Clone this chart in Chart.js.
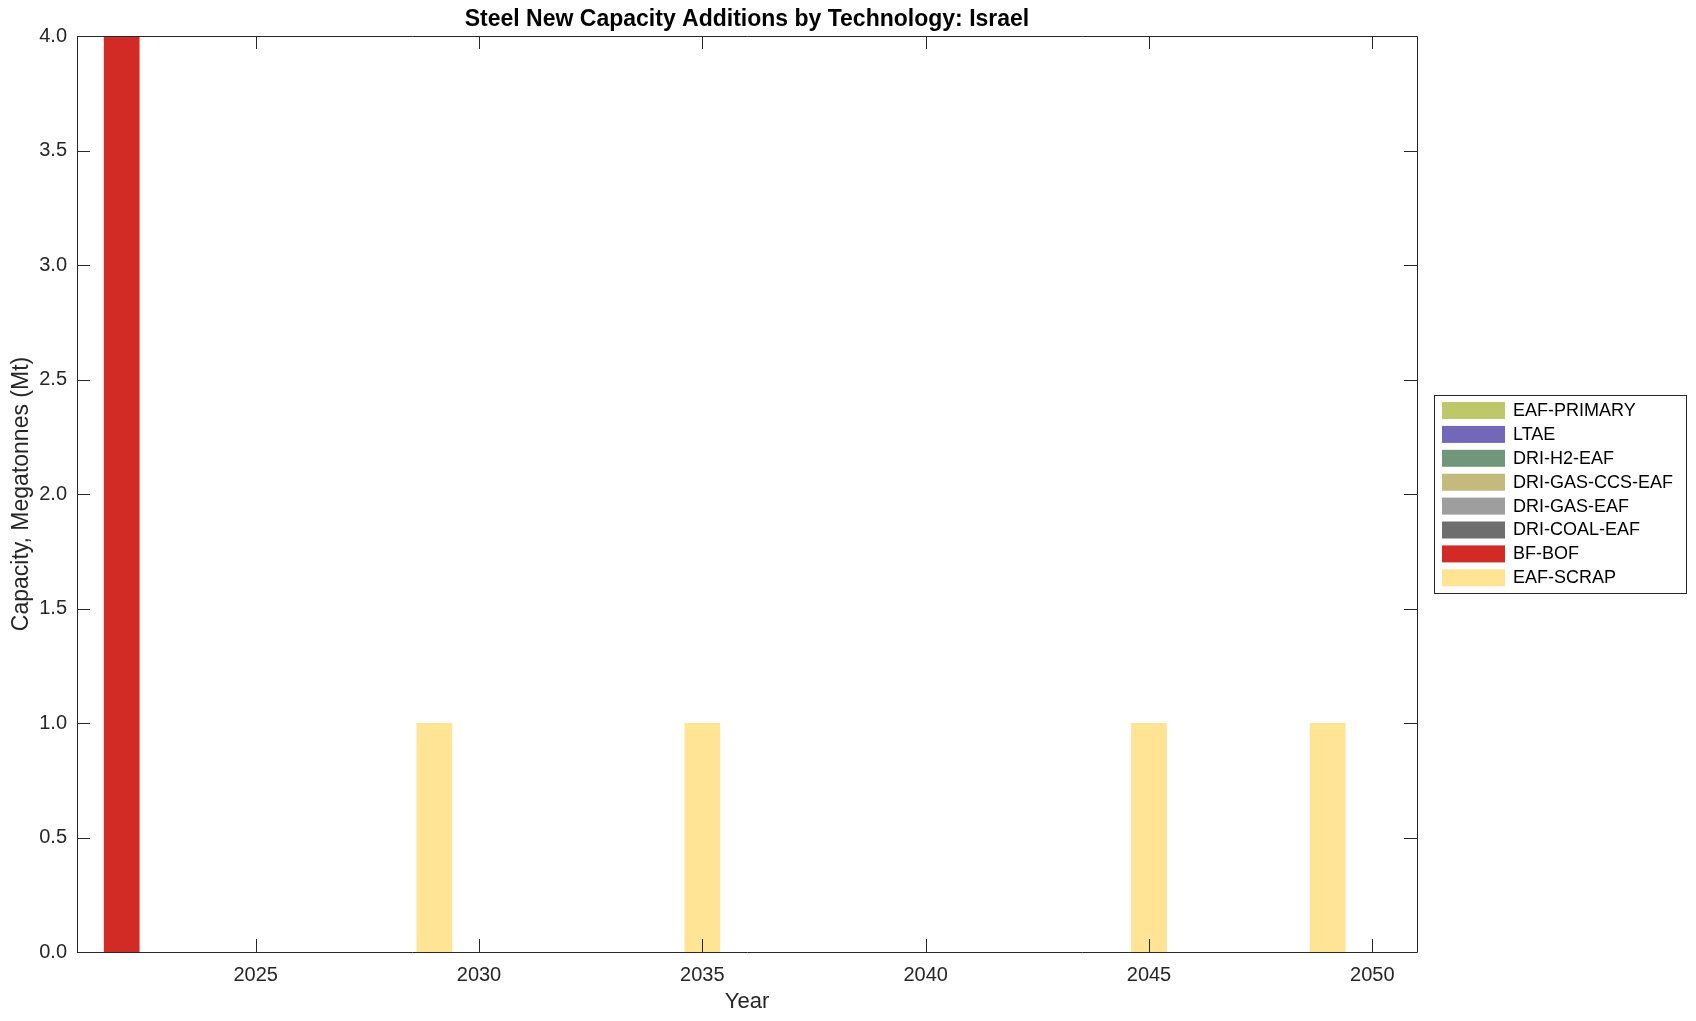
<!DOCTYPE html>
<html>
<head>
<meta charset="utf-8">
<script src="https://cdn.jsdelivr.net/npm/chart.js@4/dist/chart.umd.min.js"></script>
<style>
  html, body { margin: 0; padding: 0; background: #ffffff; }
  canvas { display: block; }
</style>
</head>
<body>
<canvas id="c" width="1696" height="1021"></canvas>
<script>
// ---- Data ----
const chartTitle = 'Steel New Capacity Additions by Technology: Israel';
const years = [2022, 2023, 2024, 2025, 2026, 2027, 2028, 2029, 2030, 2031, 2032, 2033, 2034, 2035, 2036,
               2037, 2038, 2039, 2040, 2041, 2042, 2043, 2044, 2045, 2046, 2047, 2048, 2049, 2050];
const seriesNames = ['EAF-PRIMARY', 'LTAE', 'DRI-H2-EAF', 'DRI-GAS-CCS-EAF', 'DRI-GAS-EAF', 'DRI-COAL-EAF', 'BF-BOF', 'EAF-SCRAP'];
const eafPrimary  = [0,0,0,0,0,0,0,0,0,0,0,0,0,0,0,0,0,0,0,0,0,0,0,0,0,0,0,0,0];
const ltae        = [0,0,0,0,0,0,0,0,0,0,0,0,0,0,0,0,0,0,0,0,0,0,0,0,0,0,0,0,0];
const driH2Eaf    = [0,0,0,0,0,0,0,0,0,0,0,0,0,0,0,0,0,0,0,0,0,0,0,0,0,0,0,0,0];
const driGasCcs   = [0,0,0,0,0,0,0,0,0,0,0,0,0,0,0,0,0,0,0,0,0,0,0,0,0,0,0,0,0];
const driGasEaf   = [0,0,0,0,0,0,0,0,0,0,0,0,0,0,0,0,0,0,0,0,0,0,0,0,0,0,0,0,0];
const driCoalEaf  = [0,0,0,0,0,0,0,0,0,0,0,0,0,0,0,0,0,0,0,0,0,0,0,0,0,0,0,0,0];
const bfBof       = [4,0,0,0,0,0,0,0,0,0,0,0,0,0,0,0,0,0,0,0,0,0,0,0,0,0,0,0,0];
const eafScrap    = [0,0,0,0,0,0,0,1,0,0,0,0,0,1,0,0,0,0,0,0,0,0,0,1,0,0,0,1,0];
const seriesValues = [eafPrimary, ltae, driH2Eaf, driGasCcs, driGasEaf, driCoalEaf, bfBof, eafScrap];
const seriesColors = ['#BEC86B', '#7267B9', '#71977B', '#C4BA7E', '#9E9E9E', '#6E6E6E', '#D22B26', '#FFE495'];
const xTicks = [2025, 2030, 2035, 2040, 2045, 2050];
const yTicks = [0, 0.5, 1, 1.5, 2, 2.5, 3, 3.5, 4];

const FONT = '"Liberation Sans", Arial, Helvetica, sans-serif';
const AX = '#262626';

const datasets = seriesNames.map((name, i) => ({
  label: name,
  data: years.map((y, j) => ({ x: y, y: seriesValues[i][j] })),
  backgroundColor: seriesColors[i],
  borderWidth: 0,
  categoryPercentage: 1.0,
  barPercentage: 0.8
}));

const framePlugin = {
  id: 'frame',
  afterDatasetsDraw(chart) {
    const { ctx, chartArea: a } = chart;
    const xs = chart.scales.x, ys = chart.scales.y;
    const tl = 13;
    ctx.save();
    ctx.strokeStyle = AX;
    ctx.lineWidth = 1;
    ctx.beginPath();
    ctx.rect(Math.round(a.left) + 0.5, Math.round(a.top) + 0.5, Math.round(a.right - a.left), Math.round(a.bottom - a.top));
    xTicks.forEach(v => {
      const px = Math.round(xs.getPixelForValue(v)) + 0.5;
      ctx.moveTo(px, a.bottom); ctx.lineTo(px, a.bottom - tl);
      ctx.moveTo(px, a.top); ctx.lineTo(px, a.top + tl);
    });
    yTicks.forEach(v => {
      const py = Math.round(ys.getPixelForValue(v)) + 0.5;
      ctx.moveTo(a.left, py); ctx.lineTo(a.left + tl, py);
      ctx.moveTo(a.right, py); ctx.lineTo(a.right - tl, py);
    });
    ctx.stroke();
    // title centred over the plot area
    ctx.fillStyle = '#000000';
    ctx.font = 'bold 23px ' + FONT;
    ctx.textAlign = 'center';
    ctx.textBaseline = 'middle';
    ctx.fillText(chartTitle, (a.left + a.right) / 2, 20);
    ctx.restore();
  }
};

const legendPlugin = {
  id: 'customLegend',
  afterDraw(chart) {
    const { ctx, chartArea: a } = chart;
    const boxL = a.right + 17, boxT = 395, boxW = 252, boxH = 198;
    ctx.save();
    ctx.fillStyle = '#ffffff';
    ctx.fillRect(boxL, boxT, boxW, boxH);
    ctx.strokeStyle = AX;
    ctx.lineWidth = 1;
    ctx.strokeRect(Math.round(boxL) + 0.5, boxT + 0.5, boxW, boxH);
    ctx.font = '18px ' + FONT;
    ctx.textBaseline = 'middle';
    ctx.textAlign = 'left';
    chart.data.datasets.forEach((ds, i) => {
      const yTop = boxT + 7 + i * 23.9;
      ctx.fillStyle = ds.backgroundColor;
      ctx.fillRect(boxL + 8, yTop, 63, 17);
      ctx.fillStyle = '#000000';
      ctx.fillText(ds.label, boxL + 79, yTop + 9);
    });
    ctx.restore();
  }
};

new Chart(document.getElementById('c'), {
  type: 'bar',
  data: { datasets },
  options: {
    responsive: false,
    animation: false,
    devicePixelRatio: 1,
    layout: { padding: { left: 0, right: 279, top: 36, bottom: 0 } },
    plugins: {
      legend: { display: false },
      tooltip: { enabled: false },
      title: { display: false }
    },
    scales: {
      x: {
        type: 'linear',
        stacked: true,
        offset: false,
        min: 2021,
        max: 2051,
        grid: { display: false, drawTicks: false },
        border: { display: false },
        afterBuildTicks: s => { s.ticks = xTicks.map(v => ({ value: v })); },
        afterFit: s => { s.height = 69; },
        ticks: {
          color: AX,
          font: { family: FONT, size: 20 },
          padding: 11,
          maxRotation: 0,
          autoSkip: false,
          callback: v => String(v)
        },
        title: {
          display: true,
          text: 'Year',
          color: AX,
          font: { family: FONT, size: 22 },
          padding: { top: 0, bottom: 6 }
        }
      },
      y: {
        stacked: true,
        min: 0,
        max: 4,
        grid: { display: false, drawTicks: false },
        border: { display: false },
        afterBuildTicks: s => { s.ticks = yTicks.map(v => ({ value: v })); },
        afterFit: s => { s.width = 77; },
        ticks: {
          color: AX,
          font: { family: FONT, size: 20 },
          padding: 10,
          callback: v => Number(v).toFixed(1)
        },
        title: {
          display: true,
          text: 'Capacity, Megatonnes (Mt)',
          color: AX,
          font: { family: FONT, size: 23 },
          padding: { top: 8, bottom: 0 }
        }
      }
    }
  },
  plugins: [framePlugin, legendPlugin]
});
</script>
</body>
</html>
